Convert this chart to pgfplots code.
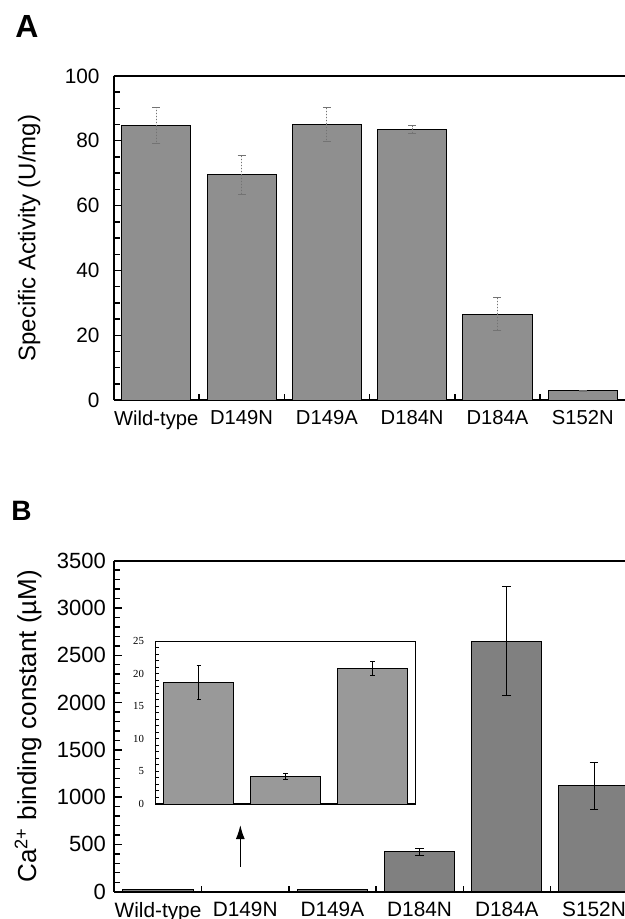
\documentclass[border=0pt]{standalone}
\usepackage{fontspec}
\setmainfont{Liberation Sans}
\newfontfamily\insetfont{Liberation Serif}
\usepackage{pgfplots}
\usepackage{pgfplotstable}
\pgfplotsset{compat=1.18}
\usetikzlibrary{arrows.meta}

% panel A: specific activity (U/mg)
\pgfplotstableread{
x y e
0 84.7 5.5
1 69.5 6.1
2 85.1 5.3
3 83.5 1.1
4 26.4 5.1
5 2.8 0.2
}\dataA

% panel B: Ca2+ binding constant (uM)
\pgfplotstableread{
x y e
0 18.7 0
1 4.25 0
2 20.85 0
3 420 35
4 2650 575
5 1120 250
}\dataB

% inset of panel B
\pgfplotstableread{
x y e
0 18.7 2.6
1 4.25 0.45
2 20.85 1.1
}\dataC

\pgfplotsset{
  panel/.style={
    scale only axis, anchor=south west,
    xmin=-0.5, xmax=5.5, ymin=0,
    axis x line=box, axis y line*=left,
    xtick={0,...,5},
    xticklabels={Wild-type,D149N,D149A,D184N,D184A,S152N},
    minor xtick={0.5,1.5,...,4.5},
    xtick pos=left, ytick pos=left,
    major x tick style={draw=none},
    tick align=inside, major tick length=4pt, minor tick length=3pt,
    axis line style={line width=1pt},
    tick style={line width=0.7pt, black},
    /pgf/number format/assume math mode=true,
    /pgf/number format/set thousands separator={},
    ylabel style={at={(axis description cs:-0.165,0.5)}, anchor=center},
  },
}

\begin{document}
\begin{tikzpicture}
\path[use as bounding box] (0,0) rectangle (312.5pt,-459.5pt);
\clip (0,0) rectangle (312.5pt,-459.5pt);

\node[anchor=base west, inner sep=0, font=\fontsize{16}{16}\selectfont\bfseries] at (7.5pt,-19pt) {A};
\node[anchor=base west, inner sep=0, font=\fontsize{14}{14}\selectfont\bfseries] at (5.5pt,-260pt) {B};

\begin{axis}[panel,
  at={(56.8pt,-200pt)}, width=255.9pt, height=162pt,
  ymax=100, ytick={0,20,...,100}, minor y tick num=3,
  xticklabel style={font=\fontsize{10.1}{12}\selectfont, yshift=-1.7pt},
  yticklabel style={font=\fontsize{10.4}{12}\selectfont, xshift=-3.5pt},
  ylabel={Specific Activity (U/mg)},
  ylabel style={font=\fontsize{12}{14}\selectfont}]
\addplot[ybar, bar width=0.81, fill=black!44, draw=black, line width=0.5pt,
  error bars/.cd, y dir=both, y explicit,
  error bar style={black!55, line width=0.5pt, densely dotted},
  error mark options={rotate=90, black!55, mark size=2pt, line width=0.5pt}]
  table[x=x, y=y, y error=e] {\dataA};
\end{axis}

\begin{axis}[panel,
  at={(57.2pt,-445.85pt)}, width=261.6pt, height=165.5pt,
  ymax=3500, ytick={0,500,...,3500}, minor y tick num=4,
  xticklabel style={font=\fontsize{10.4}{12}\selectfont, yshift=-1.7pt},
  yticklabel style={font=\fontsize{11}{13}\selectfont, xshift=-0.7pt},
  ylabel={Ca\textsuperscript{2+} binding constant (µM)},
  ylabel style={font=\fontsize{13}{15}\selectfont}]
\addplot[ybar, bar width=0.805, fill=black!50, draw=black, line width=0.5pt,
  error bars/.cd, y dir=both, y explicit,
  error bar style={black, line width=0.5pt},
  error mark options={rotate=90, black, mark size=2.2pt, line width=0.5pt}]
  table[x=x, y=y, y error=e] {\dataB};
\draw[line width=0.65pt, -{Latex[length=7pt,width=4.5pt]}]
  (axis cs:0.944,264) -- (axis cs:0.944,705);
\end{axis}

\begin{axis}[scale only axis, anchor=south west,
  at={(77.7pt,-402pt)}, width=130.15pt, height=81.35pt,
  xmin=-0.5, xmax=2.5, ymin=0, ymax=25,
  ytick={0,5,...,25}, minor y tick num=4,
  xtick=\empty, minor xtick={0.5,1.5},
  xtick pos=left, ytick pos=left,
  tick align=inside, major tick length=2pt, minor tick length=1.6pt,
  axis line style={line width=0.7pt},
  tick style={line width=0.5pt, black},
  /pgf/number format/assume math mode=true,
  yticklabel style={font=\fontsize{5.4}{6}\insetfont, xshift=-2.2pt}]
\addplot[ybar, bar width=0.805, fill=black!40, draw=black, line width=0.5pt,
  error bars/.cd, y dir=both, y explicit,
  error bar style={black, line width=0.4pt},
  error mark options={rotate=90, black, mark size=1.1pt, line width=0.4pt}]
  table[x=x, y=y, y error=e] {\dataC};
\end{axis}
\end{tikzpicture}
\end{document}
